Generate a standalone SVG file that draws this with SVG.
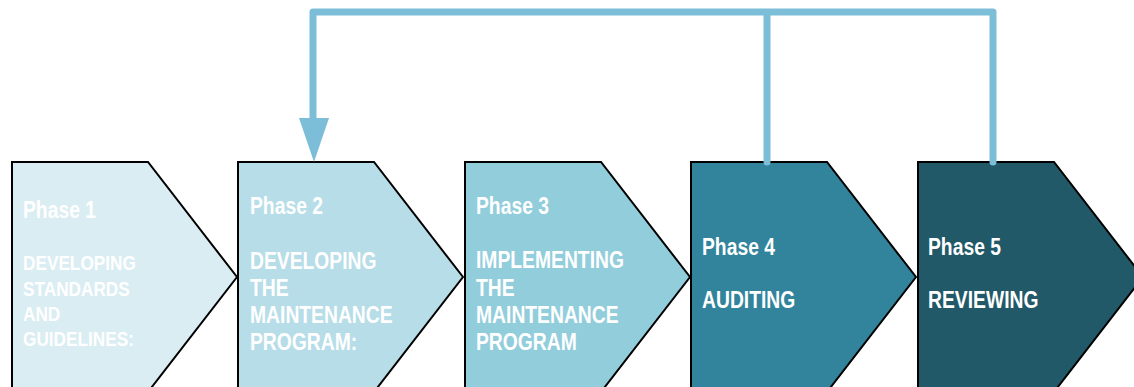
<svg xmlns="http://www.w3.org/2000/svg" width="1134" height="387" viewBox="0 0 1134 387">
  <style>
    .phase { stroke: #000; stroke-width: 2; stroke-linejoin: miter; }
    .label { font-family: "Liberation Sans", Arial, sans-serif; font-weight: bold; font-size: 23px; fill: #fff; }
    .small { font-size: 20.5px; }
    .link { fill: none; stroke: #7CBDD8; stroke-width: 7; stroke-linecap: round; stroke-linejoin: round; }
  </style>
  <defs>
    <polygon id="chevron" points="0,0 136,0 225,115 136,230 0,230"/>
  </defs>
  <rect width="1134" height="387" fill="#fff"/>

  <g id="phase1">
    <use href="#chevron" x="12" y="162" class="phase" fill="#DAEDF3"/>
    <text class="label" transform="translate(23,0) scale(0.84,1)"><tspan x="0" y="218">Phase 1</tspan><tspan class="small" x="0" y="270">DEVELOPING</tspan><tspan class="small" x="0" y="296">STANDARDS</tspan><tspan class="small" x="0" y="321">AND</tspan><tspan class="small" x="0" y="346">GUIDELINES:</tspan></text>
  </g>
  <g id="phase2">
    <use href="#chevron" x="238" y="162" class="phase" fill="#B7DDE8"/>
    <text class="label" transform="translate(250,0) scale(0.84,1)"><tspan x="0" y="214">Phase 2</tspan><tspan x="0" y="269">DEVELOPING</tspan><tspan x="0" y="296">THE</tspan><tspan x="0" y="323">MAINTENANCE</tspan><tspan x="0" y="350">PROGRAM:</tspan></text>
  </g>
  <g id="phase3">
    <use href="#chevron" x="465" y="162" class="phase" fill="#92CDDC"/>
    <text class="label" transform="translate(476,0) scale(0.84,1)"><tspan x="0" y="214">Phase 3</tspan><tspan x="0" y="268">IMPLEMENTING</tspan><tspan x="0" y="296">THE</tspan><tspan x="0" y="323">MAINTENANCE</tspan><tspan x="0" y="350">PROGRAM</tspan></text>
  </g>
  <g id="phase4">
    <use href="#chevron" x="691" y="162" class="phase" fill="#31849B"/>
    <text class="label" transform="translate(702,0) scale(0.84,1)"><tspan x="0" y="255">Phase 4</tspan><tspan x="0" y="308">AUDITING</tspan></text>
  </g>
  <g id="phase5">
    <use href="#chevron" x="918" y="162" class="phase" fill="#215968"/>
    <text class="label" transform="translate(928,0) scale(0.84,1)"><tspan x="0" y="255">Phase 5</tspan><tspan x="0" y="308">REVIEWING</tspan></text>
  </g>

  <g id="connectors">
    <path class="link" d="M767,162 V12 M993,162 V12 H313 V120"/>
    <polygon points="299,118 329,118 314,162" fill="#7CBDD8"/>
  </g>
</svg>
